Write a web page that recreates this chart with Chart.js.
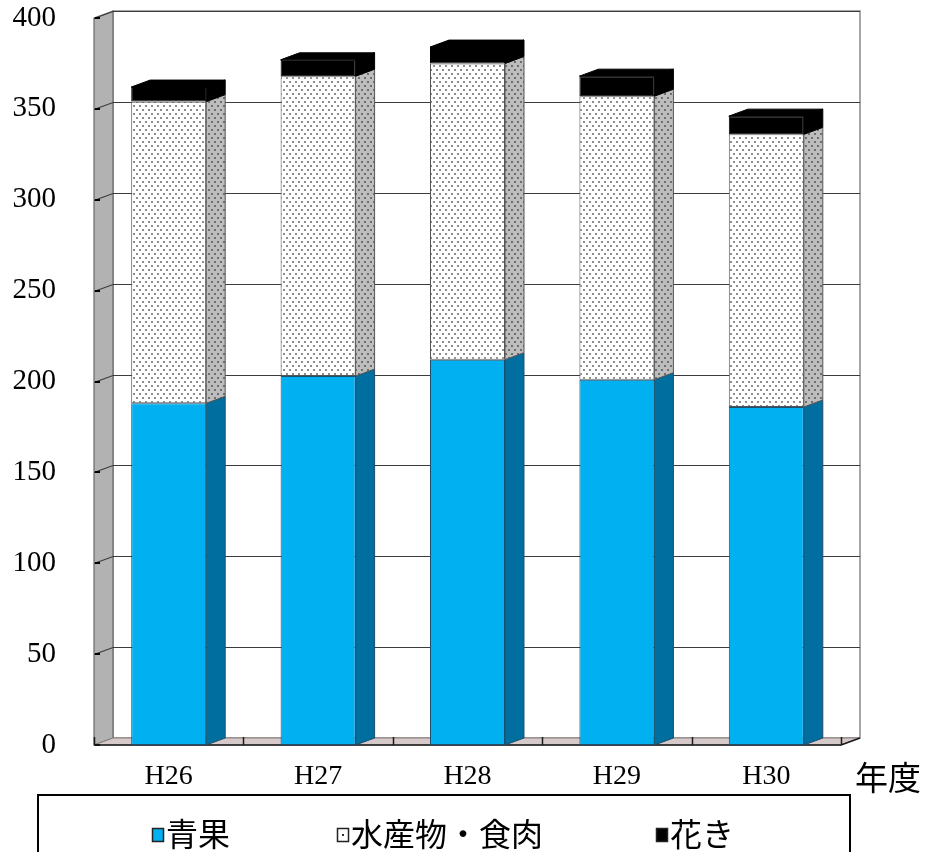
<!DOCTYPE html>
<html>
<head>
<meta charset="utf-8">
<script src="https://cdn.jsdelivr.net/npm/chart.js@4.4.0/dist/chart.umd.min.js"></script>
<style>
  html, body { margin: 0; padding: 0; background: #ffffff; }
  #wrap { width: 931px; height: 852px; position: relative; overflow: hidden; }
</style>
</head>
<body>
<div id="wrap"><canvas id="c" width="931" height="852"></canvas></div>
<script>
// 年度別の取扱量（積み上げ）
const years = ['H26', 'H27', 'H28', 'H29', 'H30'];
const seika = [188, 203, 212, 201, 186];           // 青果
const suisanShokuniku = [166, 165, 163, 156, 150]; // 水産物・食肉
const kaki = [8, 9, 9, 11, 10];                    // 花き
const seriesNames = ['青果', '水産物・食肉', '花き'];
const yMax = 400;
const yStep = 50;
const unitLabel = '年度';

// 奥行きのずれ（擬似3D）
const DX = 19, DY = -7;
const NUM_FONT = '"Liberation Serif", "DejaVu Serif", serif';
const JP_FONT = '"Noto Sans CJK JP", "Noto Sans", sans-serif';

function dotPattern(bg, dot) {
  const c = document.createElement('canvas');
  c.width = 6; c.height = 8;
  const g = c.getContext('2d');
  g.fillStyle = bg; g.fillRect(0, 0, 6, 8);
  g.fillStyle = dot;
  g.fillRect(1, 1, 2, 2);
  g.fillRect(4, 5, 2, 2);
  return g.createPattern(c, 'repeat');
}

const ctx = document.getElementById('c').getContext('2d');
const dotFront = dotPattern('#ffffff', '#8e8e8e');
const dotSide = dotPattern('#bdbdbd', '#6e6e6e');

const faceStyles = [
  { front: '#00B0F0', side: '#006E9E', edge: '#1d4f6e' },
  { front: dotFront, side: dotSide, edge: '#555555' },
  { front: '#000000', side: '#000000', edge: '#000000' }
];

function poly(c, pts, fill, stroke, lw) {
  c.beginPath();
  c.moveTo(pts[0][0], pts[0][1]);
  for (let i = 1; i < pts.length; i++) c.lineTo(pts[i][0], pts[i][1]);
  c.closePath();
  if (fill) { c.fillStyle = fill; c.fill(); }
  if (stroke) { c.strokeStyle = stroke; c.lineWidth = lw || 1; c.stroke(); }
}

const scene3d = {
  id: 'scene3d',
  beforeDatasetsDraw(chart) {
    const c = chart.ctx, a = chart.chartArea, y = chart.scales.y;
    c.save();
    // 奥の壁
    poly(c, [[a.left + DX, a.top + DY], [a.right + DX, a.top + DY], [a.right + DX, a.bottom + DY], [a.left + DX, a.bottom + DY]], '#ffffff', '#8a8a8a', 1.5);
    // 左の壁
    poly(c, [[a.left, a.top], [a.left + DX, a.top + DY], [a.left + DX, a.bottom + DY], [a.left, a.bottom]], '#b2b2b2', '#6a6a6a', 1.2);
    // 床
    poly(c, [[a.left, a.bottom], [a.right, a.bottom], [a.right + DX, a.bottom + DY], [a.left + DX, a.bottom + DY]], '#d6c9c9', '#8a7f7f', 1);
    // 目盛線
    c.strokeStyle = '#3c3c3c';
    c.lineWidth = 1.2;
    y.ticks.forEach(t => {
      if (t.value === 0) return;
      const py = Math.round(y.getPixelForValue(t.value)) + 0.5;
      c.beginPath();
      c.moveTo(a.left, py);
      c.lineTo(a.left + DX, py + DY);
      c.lineTo(a.right + DX, py + DY);
      c.stroke();
    });
    // 左端の目盛
    c.strokeStyle = '#000000';
    c.lineWidth = 2;
    y.ticks.forEach(t => {
      const py = Math.round(y.getPixelForValue(t.value));
      c.beginPath();
      c.moveTo(a.left + 1, py);
      c.lineTo(a.left + 6, py);
      c.stroke();
    });
    // 床の前縁と区切り
    const n = chart.data.labels.length;
    const cw = (a.right - a.left) / n;
    c.strokeStyle = '#1a1a1a';
    c.lineWidth = 1.5;
    c.beginPath();
    c.moveTo(a.left, a.bottom);
    c.lineTo(a.right, a.bottom);
    c.lineTo(a.right + DX, a.bottom + DY);
    c.stroke();
    for (let i = 0; i <= n; i++) {
      const px = Math.round(a.left + i * cw) + 0.5;
      c.beginPath();
      c.moveTo(px, a.bottom);
      c.lineTo(px, a.bottom - 8);
      c.stroke();
    }
    c.restore();
  },
  afterDatasetsDraw(chart) {
    const c = chart.ctx;
    const last = chart.data.datasets.length - 1;
    c.save();
    chart.data.datasets.forEach((ds, di) => {
      const meta = chart.getDatasetMeta(di);
      const st = faceStyles[di];
      meta.data.forEach(el => {
        const p = el.getProps(['x', 'y', 'base', 'width'], true);
        const l = p.x - p.width / 2, r = p.x + p.width / 2;
        const top = Math.min(p.y, p.base), bot = Math.max(p.y, p.base);
        // 側面
        poly(c, [[r, top], [r + DX, top + DY], [r + DX, bot + DY], [r, bot]], st.side, st.edge, 1);
        // 上面
        if (di === last) {
          poly(c, [[l, top], [l + DX, top + DY], [r + DX, top + DY], [r, top]], st.side, st.edge, 1);
        }
      });
    });
    c.restore();
  },
  afterDraw(chart) {
    const c = chart.ctx;
    c.save();
    // 軸の単位
    c.fillStyle = '#000000';
    c.font = '33px ' + JP_FONT;
    c.textAlign = 'left';
    c.textBaseline = 'middle';
    c.fillText(unitLabel, 855, 777);
    // 凡例
    c.strokeStyle = '#000000';
    c.lineWidth = 2;
    c.strokeRect(38, 795, 812, 100);
    const keys = [152, 337, 656];
    chart.data.datasets.forEach((ds, i) => {
      const kx = keys[i], ky = 828;
      c.fillStyle = i === 1 ? '#ffffff' : faceStyles[i].front;
      c.fillRect(kx, ky, 12, 14);
      if (i === 1) { c.fillStyle = '#333333'; c.fillRect(kx + 5, ky + 6, 2, 2); }
      c.strokeStyle = '#222222';
      c.lineWidth = 1.5;
      c.strokeRect(kx + 0.5, ky + 0.5, 11, 13);
      c.fillStyle = '#000000';
      c.font = '32px ' + JP_FONT;
      c.textBaseline = 'middle';
      c.fillText(ds.label, kx + 14, 834);
    });
    c.restore();
  }
};

new Chart(ctx, {
  type: 'bar',
  data: {
    labels: years,
    datasets: [
      { label: seriesNames[0], data: seika, backgroundColor: faceStyles[0].front, borderColor: faceStyles[0].edge, borderWidth: 1, borderSkipped: false },
      { label: seriesNames[1], data: suisanShokuniku, backgroundColor: faceStyles[1].front, borderColor: faceStyles[1].edge, borderWidth: 1, borderSkipped: false },
      { label: seriesNames[2], data: kaki, backgroundColor: faceStyles[2].front, borderColor: faceStyles[2].edge, borderWidth: 1, borderSkipped: false }
    ]
  },
  options: {
    responsive: false,
    animation: false,
    devicePixelRatio: 1,
    layout: { padding: { left: 0, right: 90, top: 18, bottom: 0 } },
    datasets: { bar: { categoryPercentage: 1, barPercentage: 0.502 } },
    plugins: { legend: { display: false }, tooltip: { enabled: false } },
    scales: {
      x: {
        stacked: true,
        grid: { display: false, drawTicks: false },
        border: { display: false },
        ticks: { padding: 15, color: '#000000', font: { family: NUM_FONT, size: 28 } },
        afterFit(s) { s.height = 107; }
      },
      y: {
        stacked: true,
        min: 0,
        max: yMax,
        grid: { display: false, drawTicks: false },
        border: { display: false },
        ticks: { stepSize: yStep, padding: 38, color: '#000000', font: { family: NUM_FONT, size: 29 } },
        afterFit(s) { s.width = 94; s.paddingTop = 0; s.paddingBottom = 0; }
      }
    }
  },
  plugins: [scene3d]
});
</script>
</body>
</html>
